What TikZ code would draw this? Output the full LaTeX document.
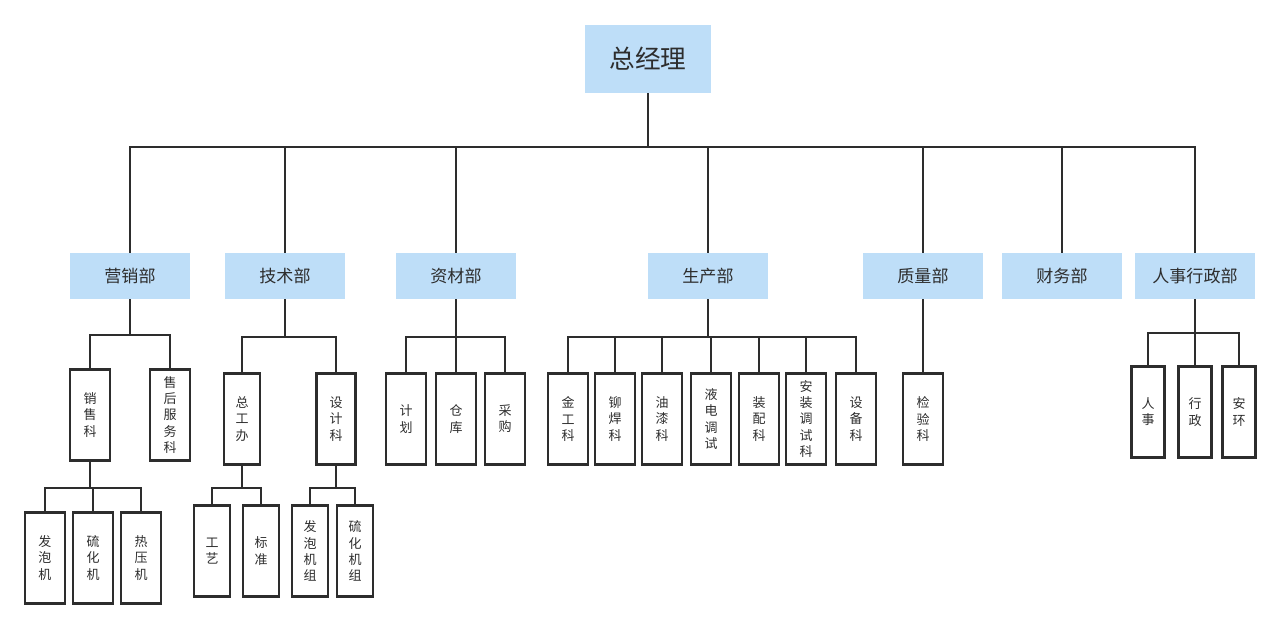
\documentclass[tikz,border=0pt]{standalone}
\usepackage{fontspec}
\newfontfamily\cjk{Noto Sans CJK SC}
\definecolor{deptblue}{RGB}{190,222,248}
\definecolor{ink}{RGB}{45,45,45}

\begin{document}
\begin{tikzpicture}[x=0.02cm, y=-0.02cm,
	every node/.style={font=\cjk, text=ink},
	top/.style={fill=deptblue, minimum width=2.52cm, minimum height=1.36cm, inner sep=0pt, font=\cjk\fontsize{14.6}{17}\selectfont},
	dept/.style={fill=deptblue, minimum width=2.4cm, minimum height=0.92cm, inner sep=0pt, font=\cjk\fontsize{9.7}{12}\selectfont},
	sec/.style={draw=ink, line width=1.6pt, minimum width=0.8cm, minimum height=1.82cm, inner sep=0pt, align=center, font=\cjk\fontsize{7.4}{9.2}\selectfont},
	ln/.style={draw=ink, line width=1.2pt}]
			\useasboundingbox (0,0) rectangle (1280,628);

			\node[top] (gm) at (648, 59) {总经理};

			\node[dept] (yx) at (130, 276) {营销部};
			\node[dept] (js) at (285, 276) {技术部};
			\node[dept] (zc) at (456, 276) {资材部};
			\node[dept] (sc) at (708, 276) {生产部};
			\node[dept] (zl) at (923, 276) {质量部};
			\node[dept] (cw) at (1062, 276) {财务部};
			\node[dept] (rs) at (1195, 276) {人事行政部};

			\node[sec] (xs) at (90, 415) {销\\售\\科};
			\node[sec] (sh) at (170, 415) {售\\后\\服\\务\\科};
			\node[sec, minimum width=0.72cm] (zgb) at (242, 419) {总\\工\\办};
			\node[sec, minimum width=0.78cm] (sjk) at (336, 419) {设\\计\\科};

			\node[sec] (jh) at (406, 419) {计\\划};
			\node[sec] (ck) at (456, 419) {仓\\库};
			\node[sec] (cg) at (505, 419) {采\\购};

			\node[sec] (jg) at (568, 419) {金\\工\\科};
			\node[sec] (mh) at (615, 419) {铆\\焊\\科};
			\node[sec] (yq) at (662, 419) {油\\漆\\科};
			\node[sec] (yd) at (711, 419) {液\\电\\调\\试};
			\node[sec] (zp) at (759, 419) {装\\配\\科};
			\node[sec] (az) at (806, 419) {安\\装\\调\\试\\科};
			\node[sec] (sb) at (856, 419) {设\\备\\科};

			\node[sec] (jy) at (923, 419) {检\\验\\科};

			\node[sec, minimum width=0.66cm] (rsk) at (1148, 412) {人\\事};
			\node[sec, minimum width=0.66cm] (xz) at (1195, 412) {行\\政};
			\node[sec, minimum width=0.66cm] (ah) at (1239, 412) {安\\环};

			\node[sec] (fpj) at (45, 558) {发\\泡\\机};
			\node[sec] (lhj) at (93, 558) {硫\\化\\机};
			\node[sec] (ryj) at (141, 558) {热\\压\\机};

			\node[sec, minimum width=0.72cm] (gy) at (212, 551) {工\\艺};
			\node[sec, minimum width=0.72cm] (bz) at (261, 551) {标\\准};
			\node[sec, minimum width=0.72cm] (fpz) at (310, 551) {发\\泡\\机\\组};
			\node[sec, minimum width=0.72cm] (lhz) at (355, 551) {硫\\化\\机\\组};

			\foreach \d in {yx,js,zc,sc,zl,cw,rs}
				\draw[ln] (gm.south) -- ++(0,54) -| (\d.north);

			\foreach \c in {xs,sh}
				\draw[ln] (yx.south) -- ++(0,36) -| (\c.north);
			\foreach \c in {zgb,sjk}
				\draw[ln] (js.south) -- ++(0,38) -| (\c.north);
			\foreach \c in {jh,ck,cg}
				\draw[ln] (zc.south) -- ++(0,38) -| (\c.north);
			\foreach \c in {jg,mh,yq,yd,zp,az,sb}
				\draw[ln] (sc.south) -- ++(0,38) -| (\c.north);
			\draw[ln] (zl.south) -- (jy.north);
			\foreach \c in {rsk,xz,ah}
				\draw[ln] (rs.south) -- ++(0,34) -| (\c.north);

			\foreach \c in {fpj,lhj,ryj}
				\draw[ln] (xs.south) -- ++(0,26) -| (\c.north);
			\foreach \c in {gy,bz}
				\draw[ln] (zgb.south) -- ++(0,22) -| (\c.north);
			\foreach \c in {fpz,lhz}
				\draw[ln] (sjk.south) -- ++(0,22) -| (\c.north);
		\end{tikzpicture}
\end{document}
